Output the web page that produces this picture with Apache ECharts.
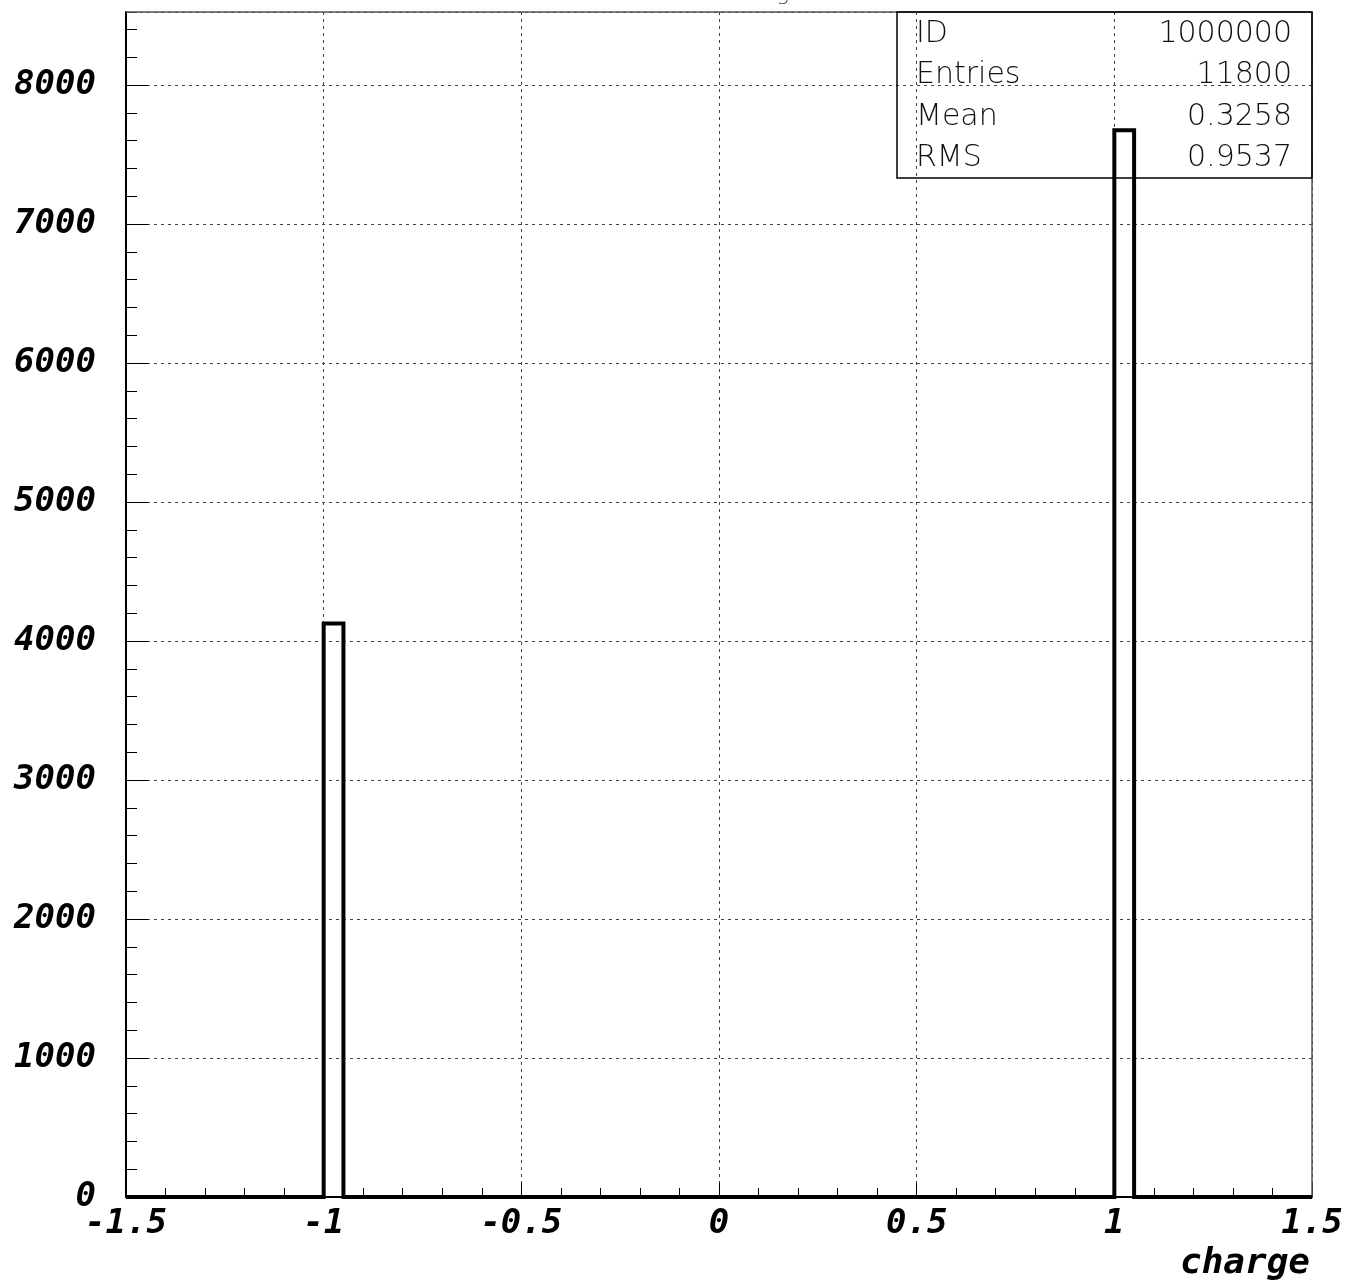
<!DOCTYPE html>
<html><head><meta charset="utf-8">
<script src="https://cdn.jsdelivr.net/npm/echarts@6/dist/echarts.min.js"></script>
<style>html,body{margin:0;padding:0;background:#fff}#c{width:1348px;height:1283px}</style>
</head><body><div id="c"></div>
<script>
// Histogram data (only non-empty bins listed; all other bins are 0)
const xMin = -1.5, xMax = 1.5, binWidth = 0.05;
const binLowEdges = [-1.0, 1.0];
const binCounts = [4125, 7675];
const yMax = 8525;
const xTickLabels = ['-1.5', '-1', '-0.5', '0', '0.5', '1', '1.5'];
const yTickLabels = ['0', '1000', '2000', '3000', '4000', '5000', '6000', '7000', '8000'];
const statsNames = ['ID', 'Entries', 'Mean', 'RMS'];
const statsValues = ['1000000', '11800', '0.3258', '0.9537'];
const xTitle = 'charge';
const histTitle = 'charge';

// Build the histogram outline from the bins
const outline = [[xMin, 0]];
binLowEdges.forEach((lo, i) => {
  const hi = +(lo + binWidth).toFixed(4);
  outline.push([lo, 0], [lo, binCounts[i]], [hi, binCounts[i]], [hi, 0]);
});
outline.push([xMax, 0]);

const labelFont = {fontFamily: 'DejaVu Sans Mono', fontWeight: 'bold', fontStyle: 'italic', fontSize: 34, color: '#000'};
const grid = {left: 126, right: 36, top: 12, bottom: 86};
const gridLine = {show: true, lineStyle: {color: '#444', width: 1, type: [3, 4]}};

const chart = echarts.init(document.getElementById('c'), null, {renderer: 'canvas'});
chart.setOption({
  animation: false,
  backgroundColor: '#fff',
  grid: grid,
  xAxis: [{
    type: 'value', min: xMin, max: xMax, interval: 0.5,
    axisLine: {show: true, onZero: false, lineStyle: {color: '#000', width: 2}},
    axisTick: {show: true, inside: true, length: 14, lineStyle: {color: '#000', width: 1}},
    minorTick: {show: true, splitNumber: 5, length: 9, lineStyle: {color: '#000', width: 1}},
    splitLine: gridLine,
    axisLabel: Object.assign({margin: 10, showMinLabel: true, showMaxLabel: true,
      formatter: v => { const i = Math.round((v - xMin) / 0.5); return xTickLabels[i] !== undefined ? xTickLabels[i] : ''; }}, labelFont)
  }],
  yAxis: [{
    type: 'value', min: 0, max: yMax, interval: 1000,
    axisLine: {show: true, onZero: false, lineStyle: {color: '#000', width: 2}},
    axisTick: {show: true, inside: true, length: 22, lineStyle: {color: '#000', width: 1}},
    splitLine: gridLine,
    axisLabel: Object.assign({margin: 30, showMaxLabel: false,
      formatter: v => { const i = Math.round(v / 1000); return (v % 1000 === 0 && yTickLabels[i] !== undefined) ? yTickLabels[i] : ''; }}, labelFont)
  }, {
    type: 'value', min: 0, max: yMax, interval: 200, position: 'left',
    axisLine: {show: false, onZero: false},
    axisTick: {show: true, inside: true, length: 11, lineStyle: {color: '#000', width: 1}},
    splitLine: {show: false},
    axisLabel: {show: false}
  }],
  series: [{
    type: 'line', data: outline, xAxisIndex: 0, yAxisIndex: 0,
    showSymbol: false, symbol: 'none',
    lineStyle: {color: '#000', width: 4, join: 'miter'},
    z: 5
  }],
  graphic: [
    // frame top and right
    {type: 'line', shape: {x1: 126, y1: 12, x2: 1312, y2: 12}, style: {stroke: '#555', lineWidth: 1.5}, z: 1},
    {type: 'line', shape: {x1: 1312, y1: 12, x2: 1312, y2: 1197}, style: {stroke: '#555', lineWidth: 1.5}, z: 1},
    // stats box
    {type: 'rect', shape: {x: 897, y: 12, width: 415, height: 166}, style: {fill: 'transparent', stroke: '#000', lineWidth: 1.5}, z: 3},
    ...statsNames.map((n, i) => ({type: 'text', left: 916, top: 19 + i * 41.5, z: 4,
      style: {text: n, fontFamily: 'DejaVu Sans', fontWeight: 200, fontSize: 30, fill: '#111'}})),
    ...statsValues.map((n, i) => ({type: 'text', right: 1348 - 1292, top: 19 + i * 41.5, z: 4,
      style: {text: n, fontFamily: 'DejaVu Sans', fontWeight: 200, fontSize: 30, fill: '#111', textAlign: 'right'}})),
    // axis title
    {type: 'text', right: 1348 - 1310, top: 1246, z: 4,
      style: {text: xTitle, fontFamily: 'DejaVu Sans Mono', fontWeight: 'bold', fontStyle: 'italic', fontSize: 36, fill: '#000', textAlign: 'right'}},
    // histogram title (mostly outside the canvas at top)
    {type: 'text', left: 728, top: -17, z: 4,
      style: {text: histTitle, fontFamily: 'DejaVu Sans', fontWeight: 200, fontSize: 22, fill: '#333'}}
  ]
});
</script>
</body></html>
